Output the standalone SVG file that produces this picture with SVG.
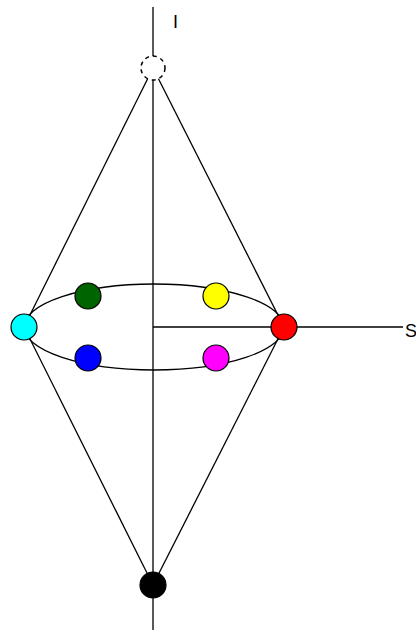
<svg xmlns="http://www.w3.org/2000/svg" width="416" height="630" viewBox="0 0 416 630">
<style>
.ln{stroke:#000;stroke-width:1.3;fill:none}
.nd{stroke:#000;stroke-width:1.2}
.lb{font-family:"Liberation Sans",Arial,sans-serif;font-size:18px;fill:#000}
</style>
<rect width="416" height="630" fill="#fff"/>
<g id="connectors">
<line class="ln" x1="153" y1="7" x2="153" y2="630"/>
<line class="ln" x1="153" y1="327" x2="403" y2="327"/>
<ellipse class="ln" cx="154" cy="327" rx="130" ry="43"/>
<line class="ln" x1="153" y1="68" x2="24" y2="327"/>
<line class="ln" x1="153" y1="68" x2="284" y2="327"/>
<line class="ln" x1="24" y1="327" x2="153" y2="585"/>
<line class="ln" x1="284" y1="327" x2="153" y2="585"/>
</g>
<g id="top"><circle cx="153" cy="68" r="12" fill="#fff" stroke="#000" stroke-width="1.5" stroke-dasharray="4,4"/></g>
<g id="cyan"><circle class="nd" cx="24" cy="327" r="13" fill="#00ffff"/></g>
<g id="red"><circle class="nd" cx="284" cy="327" r="13" fill="#ff0000"/></g>
<g id="green"><circle class="nd" cx="88" cy="296" r="13" fill="#006400"/></g>
<g id="yellow"><circle class="nd" cx="216" cy="296" r="13" fill="#ffff00"/></g>
<g id="blue"><circle class="nd" cx="88" cy="358" r="13" fill="#0000ff"/></g>
<g id="magenta"><circle class="nd" cx="216" cy="358" r="13" fill="#ff00ff"/></g>
<g id="black"><circle class="nd" cx="153" cy="585" r="13" fill="#000"/></g>
<text class="lb" x="173" y="28">I</text>
<text class="lb" x="405" y="337">S</text>
</svg>
